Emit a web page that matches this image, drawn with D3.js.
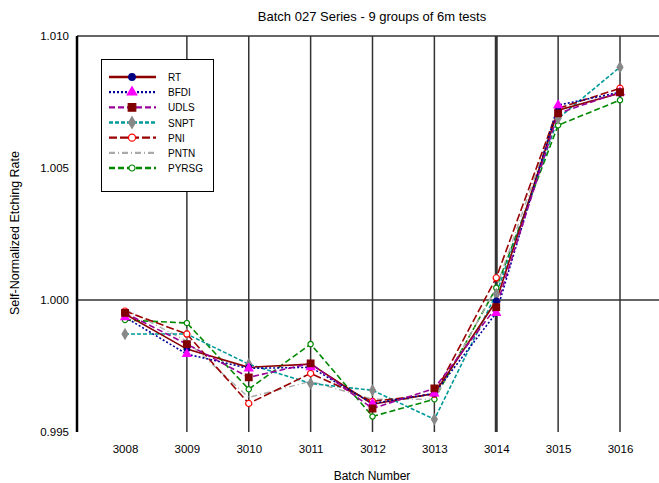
<!DOCTYPE html>
<html>
<head>
<meta charset="utf-8">
<script src="https://cdn.jsdelivr.net/npm/d3@7"></script>
<style>
  body { margin: 0; background: #fff; }
  svg { display: block; font-family: "Liberation Sans", Arial, sans-serif; }
</style>
</head>
<body>
<svg id="chart" width="659" height="483"></svg>
<script>
// Batch numbers along the x axis
const batches = [3008, 3009, 3010, 3011, 3012, 3013, 3014, 3015, 3016];
const yTicks = [0.995, 1.000, 1.005, 1.010];

// Self-normalized rate per group
const RT    = [0.99947, 0.99814, 0.99745, 0.99757, 0.99605, 0.99646, 0.99996, 1.00719, 1.00783];
const BFDI  = [0.99935, 0.99795, 0.99741, 0.99745, 0.99608, 0.99646, 0.99951, 1.00738, 1.00787];
const UDLS  = [0.99951, 0.99833, 0.99707, 0.99760, 0.99589, 0.99665, 0.99973, 1.00707, 1.00787];
const SNPT  = [0.99871, 0.99871, 0.99757, 0.99684, 0.99658, 0.99548, 1.00023, 1.00688, 1.00882];
const PNI   = [0.99958, 0.99871, 0.99608, 0.99722, 0.99616, 0.99643, 1.00084, 1.00726, 1.00802];
const PNTN  = [0.99966, 0.99844, 0.99631, 0.99692, 0.99624, 0.99624, 1.00046, 1.00719, 1.00787];
const PYRSG = [0.99924, 0.99913, 0.99662, 0.99833, 0.99559, 0.99624, 1.00046, 1.00662, 1.00757];

const groupNames = ["RT", "BFDI", "UDLS", "SNPT", "PNI", "PNTN", "PYRSG"];
const groupValues = [RT, BFDI, UDLS, SNPT, PNI, PNTN, PYRSG];

// Drawing style for each group
const styles = {
  RT:    { color: "#8b0000", dash: null,        width: 1.6, marker: "circle",   mFill: "#000080", mStroke: "#000080", size: 26 },
  BFDI:  { color: "#000099", dash: "2,2",       width: 1.6, marker: "triangle", mFill: "#ff00ff", mStroke: "#ff00ff", size: 30 },
  UDLS:  { color: "#990099", dash: "6,3",       width: 1.6, marker: "square",   mFill: "#800000", mStroke: "#800000", size: 44 },
  SNPT:  { color: "#009999", dash: "4,2",       width: 1.6, marker: "diamond",  mFill: "#888888", mStroke: "#888888", size: 30 },
  PNI:   { color: "#990000", dash: "8,3",       width: 1.6, marker: "circle",   mFill: "#ffffff", mStroke: "#ff0000", size: 30 },
  PNTN:  { color: "#aaaaaa", dash: "6,3,1,3",   width: 1.4, marker: null },
  PYRSG: { color: "#008800", dash: "6,3",       width: 1.6, marker: "circle",   mFill: "#ffffff", mStroke: "#008800", size: 22 }
};

const symbolTypes = {
  circle: d3.symbolCircle,
  triangle: d3.symbolTriangle,
  square: d3.symbolSquare,
  diamond: d3.symbolDiamond
};

const svg = d3.select("#chart");

const plotLeft = 77, plotTop = 36, plotRight = 659, plotBottom = 432;

const x = d3.scaleLinear().domain([3008, 3016]).range([125, 620]);
const y = d3.scaleLinear().domain([0.995, 1.010]).range([plotBottom, plotTop]);

// Title
svg.append("text")
  .attr("x", 372).attr("y", 21)
  .attr("text-anchor", "middle")
  .attr("font-size", 13)
  .text("Batch 027 Series - 9 groups of 6m tests");

// Frame lines: top edge and the 1.000 reference line
svg.append("line")
  .attr("x1", plotLeft).attr("x2", plotRight)
  .attr("y1", y(1.010)).attr("y2", y(1.010))
  .attr("stroke", "#333").attr("stroke-width", 1.5);
svg.append("line")
  .attr("x1", plotLeft).attr("x2", plotRight)
  .attr("y1", y(1.000)).attr("y2", y(1.000))
  .attr("stroke", "#333").attr("stroke-width", 1.5);

// Vertical grid lines at each batch after the first
svg.append("g").selectAll("line")
  .data(batches.slice(1))
  .join("line")
  .attr("x1", d => x(d)).attr("x2", d => x(d))
  .attr("y1", plotTop).attr("y2", plotBottom)
  .attr("stroke", "#333")
  .attr("stroke-width", d => d === 3014 ? 3 : 1.5);

// Left axis line
svg.append("line")
  .attr("x1", plotLeft).attr("x2", plotLeft)
  .attr("y1", plotTop).attr("y2", plotBottom)
  .attr("stroke", "#000").attr("stroke-width", 2.5);

// Y tick labels
const yAxis = svg.append("g")
  .attr("transform", `translate(${plotLeft - 8},0)`)
  .call(d3.axisLeft(y).tickValues(yTicks).tickSize(0).tickPadding(0).tickFormat(d3.format(".3f")));
yAxis.select(".domain").remove();
yAxis.selectAll("text").attr("font-size", 11.5).attr("font-family", "Liberation Sans, Arial, sans-serif").attr("fill", "#000");

// X tick labels
const xAxis = svg.append("g")
  .attr("transform", `translate(0,${plotBottom + 13})`)
  .call(d3.axisBottom(x).tickValues(batches).tickSize(0).tickPadding(0).tickFormat(d3.format("d")));
xAxis.select(".domain").remove();
xAxis.selectAll("text").attr("font-size", 11.5).attr("font-family", "Liberation Sans, Arial, sans-serif").attr("fill", "#000");

// Axis titles
svg.append("text")
  .attr("x", 372).attr("y", 480)
  .attr("text-anchor", "middle")
  .attr("font-size", 12)
  .text("Batch Number");
svg.append("text")
  .attr("transform", "translate(19,233) rotate(-90)")
  .attr("text-anchor", "middle")
  .attr("font-size", 12.5)
  .text("Self-Normalized Etching Rate");

// Series lines
const line = d3.line()
  .x((d, i) => x(batches[i]))
  .y(d => y(d));

const drawOrder = ["PYRSG", "PNTN", "SNPT", "PNI", "RT", "BFDI", "UDLS"];
const plot = svg.append("g");

drawOrder.forEach(name => {
  const vals = groupValues[groupNames.indexOf(name)];
  const s = styles[name];
  plot.append("path")
    .datum(vals)
    .attr("fill", "none")
    .attr("stroke", s.color)
    .attr("stroke-width", s.width)
    .attr("stroke-dasharray", s.dash)
    .attr("d", line);
});

drawOrder.forEach(name => {
  const vals = groupValues[groupNames.indexOf(name)];
  const s = styles[name];
  if (!s.marker) return;
  plot.append("g").selectAll("path")
    .data(vals)
    .join("path")
    .attr("transform", (d, i) => `translate(${x(batches[i])},${y(d)})`)
    .attr("d", d3.symbol().type(symbolTypes[s.marker]).size(s.size))
    .attr("fill", s.mFill)
    .attr("stroke", s.mStroke)
    .attr("stroke-width", 1.2);
});

// Legend
const legend = svg.append("g");
legend.append("rect")
  .attr("x", 101.5).attr("y", 59.5)
  .attr("width", 112).attr("height", 132)
  .attr("fill", "#fff").attr("stroke", "#000").attr("stroke-width", 1);

const rowY = d3.scaleLinear().domain([0, 6]).range([77, 168]);
groupNames.forEach((name, i) => {
  const s = styles[name];
  const yy = rowY(i);
  legend.append("line")
    .attr("x1", 109).attr("x2", 156)
    .attr("y1", yy).attr("y2", yy)
    .attr("stroke", s.color)
    .attr("stroke-width", s.width + 0.8)
    .attr("stroke-dasharray", s.dash);
  if (s.marker) {
    legend.append("path")
      .attr("transform", `translate(132,${yy})`)
      .attr("d", d3.symbol().type(symbolTypes[s.marker]).size(s.size * 1.3))
      .attr("fill", s.mFill)
      .attr("stroke", s.mStroke)
      .attr("stroke-width", 1.2);
  }
  legend.append("text")
    .attr("x", 168).attr("y", yy + 4)
    .attr("font-size", 10)
    .text(name);
});
</script>
</body>
</html>
